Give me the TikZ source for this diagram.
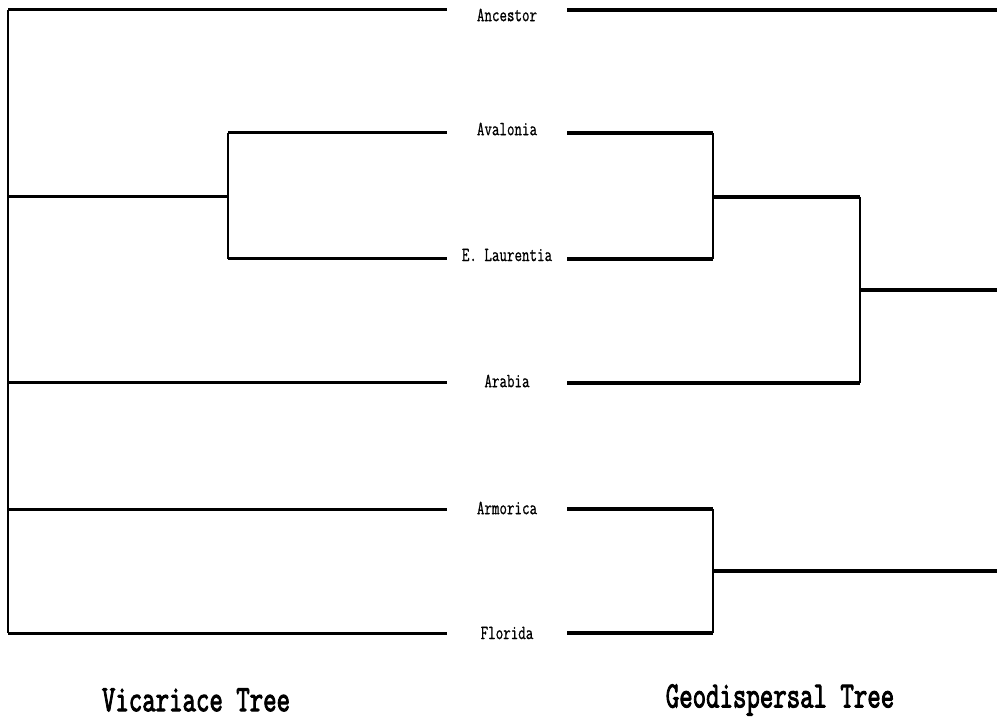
\documentclass[tikz,border=0pt]{standalone}
\usepackage{fontspec}
\newfontfamily\labelfont[FakeBold=1]{Latin Modern Mono}
\newfontfamily\titlefont[FakeBold=3]{Latin Modern Mono}
\begin{document}
\begin{tikzpicture}[x=1pt,y=-1pt,
  taxon/.style={minimum width=120pt,minimum height=14pt,inner sep=0pt,
    font=\labelfont\fontsize{20}{20}\selectfont},
  title/.style={inner sep=0pt,font=\titlefont\fontsize{37}{37}\selectfont},
  vline/.style={line width=2.2pt},
  lline/.style={line width=3pt},
  rline/.style={line width=4pt}]
\useasboundingbox (0,0) rectangle (997,719);

% taxa in the middle column
\node[taxon] (anc) at (507,15) {\scalebox{0.73}[1]{Ancestor}};
\node[taxon] (ava) at (507,129) {\scalebox{0.73}[1]{Avalonia}};
\node[taxon] (lau) at (507,255) {\scalebox{0.73}[1]{E. Laurentia}};
\node[taxon] (ara) at (507,381) {\scalebox{0.73}[1]{Arabia}};
\node[taxon] (arm) at (507,508) {\scalebox{0.73}[1]{Armorica}};
\node[taxon] (flo) at (507,633) {\scalebox{0.73}[1]{Florida}};

% left tree junctions
\coordinate (lroot) at (8,10);
\coordinate (lbot) at (8,633);
\coordinate (lj) at (228,197);
\coordinate (ljt) at (228,133);
\coordinate (ljb) at (228,259);

% right tree junctions
\coordinate (ra) at (713,133);
\coordinate (rab) at (713,259);
\coordinate (rb) at (860,197);
\coordinate (rbb) at (860,383);
\coordinate (rc) at (713,509);
\coordinate (rcb) at (713,633);
\coordinate (rend1) at (997,10);
\coordinate (rend2) at (997,290);
\coordinate (rend3) at (997,571);

% vicariance tree
\draw[vline] (lroot) -- (lbot);
\draw[lline] (lroot) -- (anc.west |- lroot);
\draw[lline] (lroot |- lj) -- (lj);
\draw[vline] (ljt) -- (ljb);
\draw[lline] (ljt) -- (ava.west |- ljt);
\draw[lline] (ljb) -- (lau.west |- ljb);
\draw[lline] (8,383) -- (ara.west |- 0,383);
\draw[lline] (8,509) -- (arm.west |- 0,509);
\draw[lline] (lbot) -- (flo.west |- lbot);

% geodispersal tree
\draw[rline] (anc.east |- rend1) -- (rend1);
\draw[rline] (ava.east |- ra) -- (ra);
\draw[rline] (lau.east |- rab) -- (rab);
\draw[vline] (ra) -- (rab);
\draw[rline] (ra |- rb) -- (rb);
\draw[vline] (rb) -- (rbb);
\draw[rline] (ara.east |- rbb) -- (rbb);
\draw[rline] (rb |- rend2) -- (rend2);
\draw[rline] (arm.east |- rc) -- (rc);
\draw[rline] (flo.east |- rcb) -- (rcb);
\draw[vline] (rc) -- (rcb);
\draw[rline] (rc |- rend3) -- (rend3);

% titles
\node[title] (vt) at (196,700) {\scalebox{0.705}[1]{Vicariace Tree}};
\node[title] (gt) at (780,700) {\scalebox{0.705}[1]{Geodispersal Tree}};
\end{tikzpicture}
\end{document}
